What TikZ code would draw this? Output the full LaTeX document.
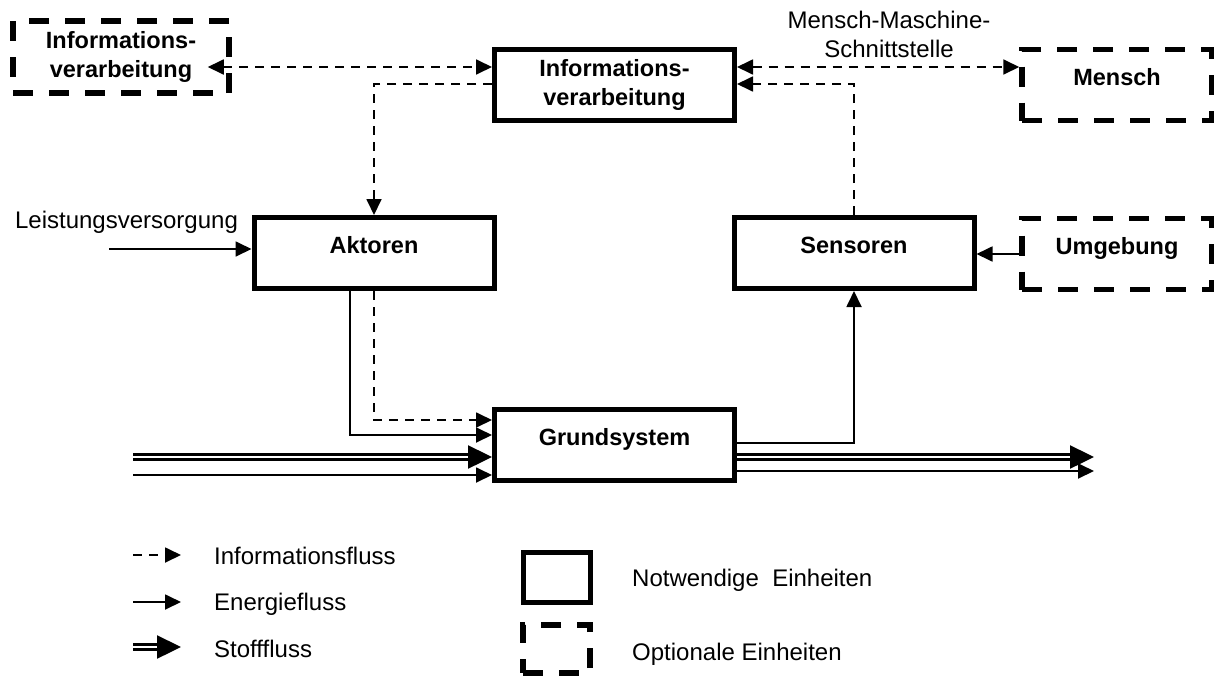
\documentclass[tikz,border=0pt]{standalone}
\usepackage{fontspec}
\setmainfont{Liberation Sans}
\usetikzlibrary{arrows.meta}
\begin{document}
\begin{tikzpicture}[x=1pt,y=-1pt,>={Triangle[length=16pt,width=15pt]},
    unit/.style={draw,line width=5pt,minimum width=240pt,minimum height=71pt,inner sep=0pt,
      align=center,font=\fontsize{23.5}{29}\selectfont\bfseries},
    optunit/.style={unit,line width=5.5pt,dash pattern=on 20pt off 16pt},
    oneline/.style={text height=9pt,text depth=9pt},
    info/.style={line width=1.8pt,dash pattern=on 9pt off 7pt},
    energy/.style={line width=1.8pt},
    stoff/.style={line width=2.4pt,double distance=2.6pt,-{Triangle[length=24pt,width=23pt]}},
    lbl/.style={inner sep=0pt,font=\fontsize{24}{29}\selectfont}]
\useasboundingbox (0,0) rectangle (1214,675);

% Einheiten
\node[optunit,minimum width=216pt,minimum height=72pt] (ivl) at (121,57) {Informations-\\verarbeitung};
\node[unit] (iv) at (614.5,84.75) {Informations-\\verarbeitung};
\node[optunit,oneline,minimum width=190pt] (mensch) at (1117,85) {Mensch};
\node[unit,oneline] (akt) at (374,253) {Aktoren};
\node[unit,oneline] (sens) at (854,253) {Sensoren};
\node[optunit,oneline,minimum width=190pt] (umg) at (1117,254) {Umgebung};
\node[unit,oneline] (grund) at (614.5,445) {Grundsystem};

\node[lbl,align=center] (mms) at (889,34) {Mensch-Maschine-\\Schnittstelle};
\node[lbl,anchor=base] (lvtext) at (126.5,228) {Leistungsversorgung};

% Hilfspunkte
\coordinate (rowa) at (0,67);
\coordinate (rowb) at (0,84);
\coordinate (lvin) at (109,249);
\coordinate (infoin) at (0,420);
\coordinate (energin) at (0,435);
\coordinate (sensrow) at (0,443);
\coordinate (stoffin) at (133,457);
\coordinate (nebenin) at (133,475);
\coordinate (stoffout) at (1094,457);
\coordinate (nebenout) at (1094,471);

% Informationsfluss
\draw[info,<->,shorten <=-24pt] (ivl.east |- rowa) -- (iv.west |- rowa);
\draw[info,<->] (iv.east |- rowa) -- (mensch.west |- rowa);
\draw[info,->] (iv.west |- rowb) -| (akt.north);
\draw[info,->] (sens.north) |- (iv.east |- rowb);
\draw[info,->] (akt.south) |- (grund.west |- infoin);

% Energie- und Stofffluss
\draw[energy,->] (lvin) -- (akt.west |- lvin);
\draw[energy,->] ([xshift=-24pt]akt.south) |- (grund.west |- energin);
\draw[stoff] (stoffin) -- (grund.west |- stoffin);
\draw[energy,->] (nebenin) -- (grund.west |- nebenin);
\draw[energy,->] (grund.east |- sensrow) -| (sens.south);
\draw[stoff] (grund.east |- stoffout) -- (stoffout);
\draw[energy,->] (grund.east |- nebenout) -- (nebenout);
\draw[energy,->] (umg.west) -- (sens.east |- umg.west);

% Legende
\coordinate (leg1a) at (133,555); \coordinate (leg1b) at (181,555);
\coordinate (leg2a) at (133,602); \coordinate (leg2b) at (181,602);
\coordinate (leg3a) at (133,647); \coordinate (leg3b) at (181,647);
\draw[info,->] (leg1a) -- (leg1b);
\draw[energy,->] (leg2a) -- (leg2b);
\draw[stoff] (leg3a) -- (leg3b);
\node[lbl,anchor=base west] (leg1t) at (214,564) {Informationsfluss};
\node[lbl,anchor=base west] (leg2t) at (214,610) {Energiefluss};
\node[lbl,anchor=base west] (leg3t) at (214,657) {Stofffluss};

\node[unit,minimum width=67pt,minimum height=50pt] (legnot) at (556.5,577) {};
\node[optunit,minimum width=67pt,minimum height=48pt] (legopt) at (556.5,649) {};
\node[lbl,anchor=base west] (legnott) at (632,586) {Notwendige\ \ Einheiten};
\node[lbl,anchor=base west] (legoptt) at (632,660) {Optionale Einheiten};
\end{tikzpicture}
\end{document}
